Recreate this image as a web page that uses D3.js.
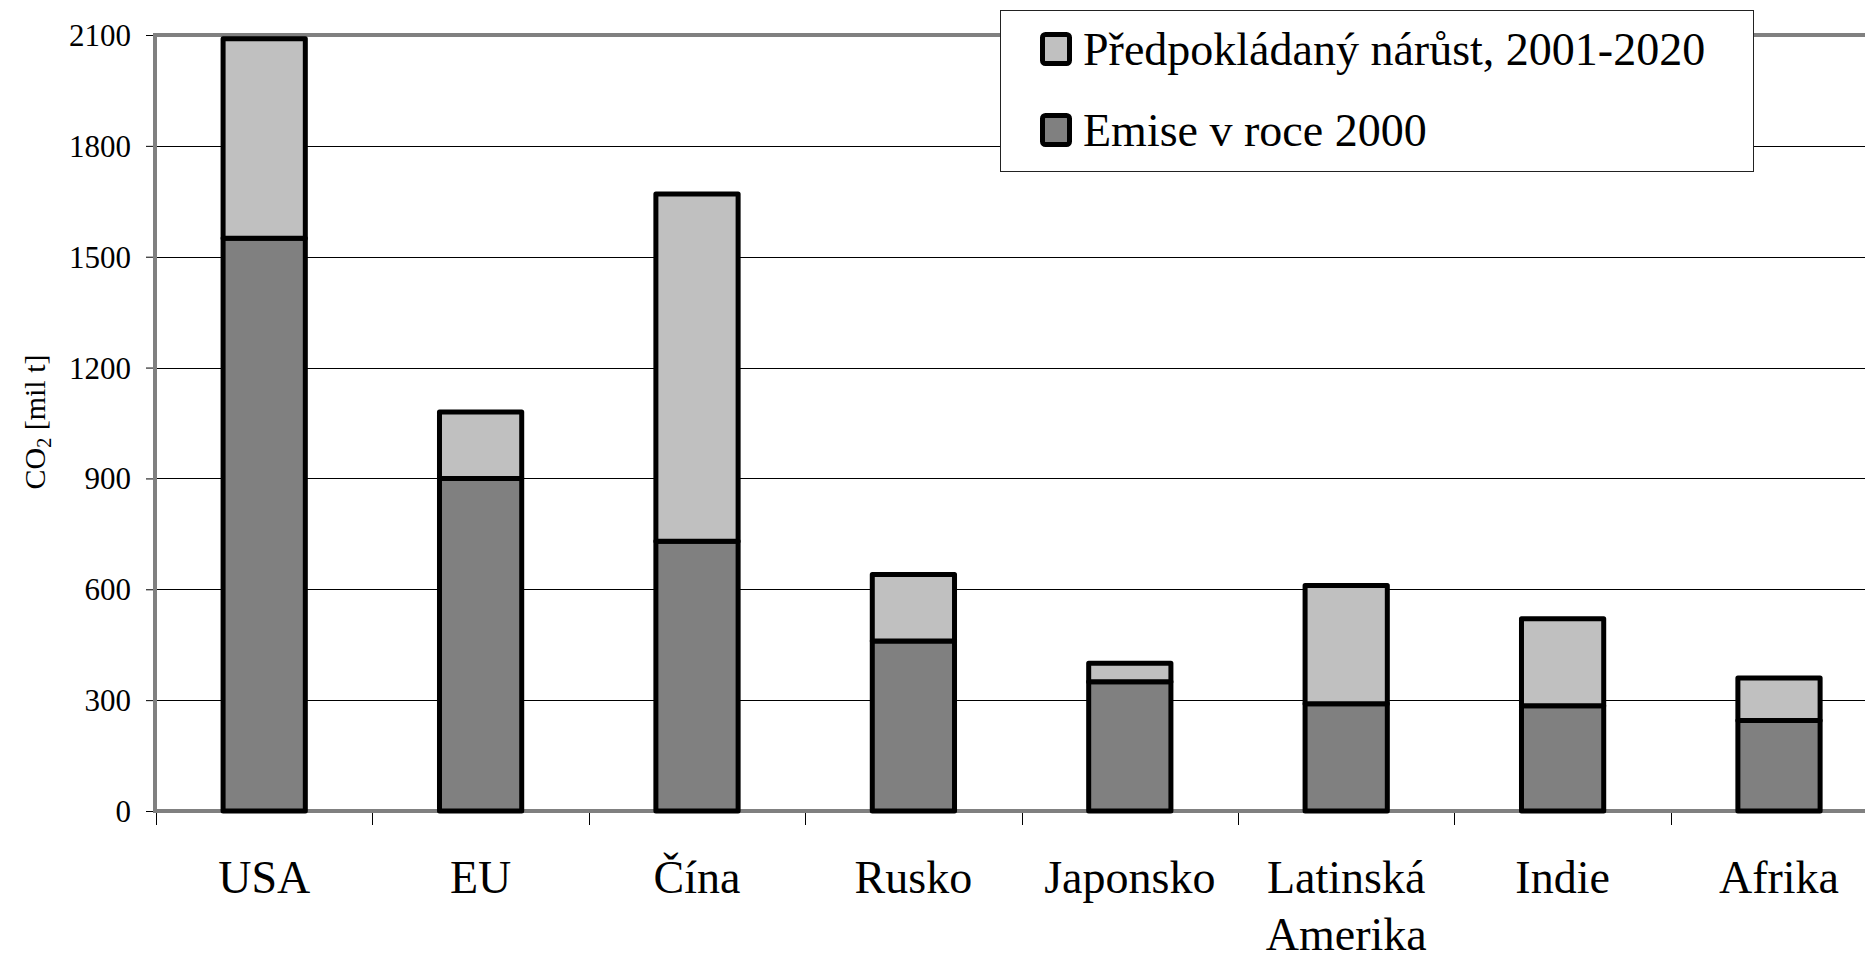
<!DOCTYPE html>
<html>
<head>
<meta charset="utf-8">
<script src="https://cdn.jsdelivr.net/npm/d3@7"></script>
<style>
  html, body { margin: 0; padding: 0; background: #fff; overflow: hidden; }
  svg { display: block; }
  svg text { font-family: "Liberation Serif", "Times New Roman", Times, serif !important; fill: #000; }
</style>
</head>
<body>
<svg id="chart" width="1865" height="957"></svg>
<script>
// ---- data ----
const categories = ["USA", "EU", "Čína", "Rusko", "Japonsko", "Latinská Amerika", "Indie", "Afrika"];
const emise2000 = [1550, 900, 730, 460, 350, 290, 285, 245];
const narust = [540, 180, 940, 180, 50, 320, 235, 115];
const yTicks = [0, 300, 600, 900, 1200, 1500, 1800, 2100];
const seriesNames = ["Předpokládaný nárůst, 2001-2020", "Emise v roce 2000"];
const yTitle = "CO";

(function () {
const FONT = "'Liberation Serif', 'Times New Roman', Times, serif";
const svg = d3.select("#chart").attr("font-family", FONT);
const W = 1865;
const mLeft = 156, mTop = 35, mBottom = 811;
const band = 216.4;

const x = d3.scaleBand().domain(categories).range([mLeft, mLeft + band * categories.length]).padding(0);
const y = d3.scaleLinear().domain([0, 2100]).range([mBottom, mTop]);

const colDark = "#808080", colLight = "#c0c0c0";

// gridlines
svg.append("g").selectAll("line").data(yTicks.filter(d => d > 0 && d < 2100)).join("line")
  .attr("x1", mLeft).attr("x2", W + 40)
  .attr("y1", d => Math.round(y(d)) + 0.5).attr("y2", d => Math.round(y(d)) + 0.5)
  .attr("stroke", "#000").attr("stroke-width", 1);

// y axis with ticks
const yAxis = d3.axisLeft(y).tickValues(yTicks).tickSize(10).tickPadding(15).tickFormat(d3.format("d"));
const gy = svg.append("g").attr("transform", `translate(${mLeft},0)`).call(yAxis)
  .attr("font-family", FONT).attr("font-size", 31);
gy.select(".domain").remove();
gy.selectAll(".tick line").attr("stroke", "#000").attr("stroke-width", 1);
gy.selectAll(".tick text").attr("font-family", FONT).style("font-family", FONT).style("font-size", "31px").attr("dy", "0.34em");

// x axis ticks at band boundaries
svg.append("g").selectAll("line").data(categories).join("line")
  .attr("x1", d => Math.round(x(d)) + 0.5).attr("x2", d => Math.round(x(d)) + 0.5)
  .attr("y1", mBottom).attr("y2", mBottom + 14)
  .attr("stroke", "#000").attr("stroke-width", 1);

// plot border (gray)
svg.append("rect")
  .attr("x", mLeft - 1).attr("y", y(2100))
  .attr("width", band * categories.length + 2).attr("height", mBottom - y(2100))
  .attr("fill", "none").attr("stroke", "#808080").attr("stroke-width", 4);

// bars
const bw = band * 0.38;
const gb = svg.append("g");
categories.forEach((c, i) => {
  const cx = x(c) + x.bandwidth() / 2;
  const base = emise2000[i];
  const tot = base + narust[i];
  gb.append("rect")
    .attr("x", cx - bw / 2).attr("y", y(base)).attr("width", bw).attr("height", y(0) - y(base))
    .attr("fill", colDark).attr("stroke", "#000").attr("stroke-width", 5).attr("stroke-linejoin", "round");
  gb.append("rect")
    .attr("x", cx - bw / 2).attr("y", y(tot)).attr("width", bw).attr("height", y(base) - y(tot))
    .attr("fill", colLight).attr("stroke", "#000").attr("stroke-width", 5).attr("stroke-linejoin", "round");
});

// category labels
const gl = svg.append("g");
categories.forEach(c => {
  const words = c.split(" ");
  const t = gl.append("text")
    .attr("x", x(c) + x.bandwidth() / 2).attr("y", 893)
    .attr("text-anchor", "middle").attr("font-family", FONT).style("font-size", "46px");
  words.forEach((w, j) => {
    t.append("tspan").attr("x", x(c) + x.bandwidth() / 2).attr("dy", j === 0 ? 0 : 57).text(w);
  });
});

// y title
const yt = svg.append("text")
  .attr("transform", "translate(45,422) rotate(-90)")
  .attr("text-anchor", "middle").attr("font-family", FONT).style("font-size", "30px");
yt.append("tspan").text(yTitle);
yt.append("tspan").attr("dy", 6).style("font-size", "20px").text("2");
yt.append("tspan").attr("dy", -6).text(" [mil t]");

// legend
const lg = svg.append("g");
lg.append("rect").attr("x", 1000.5).attr("y", 10.5).attr("width", 753).attr("height", 161)
  .attr("fill", "#fff").attr("stroke", "#222").attr("stroke-width", 1);
const legRows = [
  { name: seriesNames[0], color: colLight, sy: 34.5, ty: 65 },
  { name: seriesNames[1], color: colDark, sy: 115.5, ty: 146 }
];
legRows.forEach(r => {
  lg.append("rect").attr("x", 1042.5).attr("y", r.sy).attr("width", 27).attr("height", 29).attr("rx", 3)
    .attr("fill", r.color).attr("stroke", "#000").attr("stroke-width", 5);
  lg.append("text").attr("x", 1083).attr("y", r.ty).attr("font-family", FONT).style("font-size", "46px").text(r.name);
});
})();
</script>
</body>
</html>
